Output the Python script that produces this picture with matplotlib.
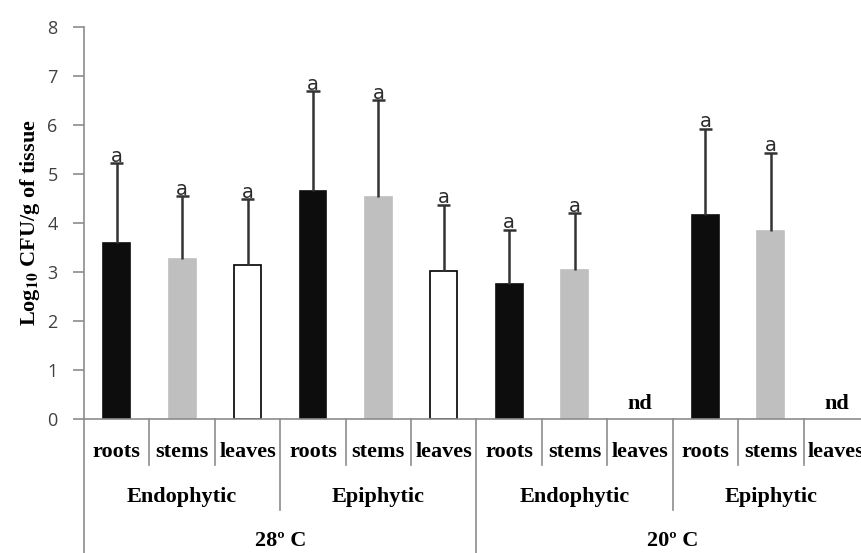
import numpy as np
import matplotlib
matplotlib.use('Agg')
import matplotlib.pyplot as plt
import matplotlib.transforms as mtransforms

# Data (log10 CFU/g of tissue)
tissues = ['roots', 'stems', 'leaves'] * 4
habitats = ['Endophytic', 'Epiphytic', 'Endophytic', 'Epiphytic']
temperatures = ['28º C', '20º C']
means = [3.59, 3.26, 3.14, 4.65, 4.53, 3.02, 2.75, 3.04, np.nan, 4.16, 3.84, np.nan]
err_top = [5.22, 4.55, 4.49, 6.69, 6.51, 4.37, 3.86, 4.20, np.nan, 5.92, 5.43, np.nan]
letters = ['a', 'a', 'a', 'a', 'a', 'a', 'a', 'a', 'nd', 'a', 'a', 'nd']

colors = {'roots': '#0d0d0d', 'stems': '#bfbfbf', 'leaves': 'white'}
axis_grey = '#8c8c8c'

means = np.array(means)
err_top = np.array(err_top)
x = np.arange(len(tissues))

fig = plt.figure(figsize=(8.62, 5.53), dpi=100)
ax = fig.add_axes([84 / 862, 134 / 553, 785 / 862, 392 / 553])

ok = ~np.isnan(means)
for i in x[ok]:
    t = tissues[i]
    ax.bar(i, means[i], width=0.41, color=colors[t],
           edgecolor='black' if t == 'leaves' else colors[t], linewidth=1.2, zorder=2)

# upper-only error bars with a cap at the top
ax.vlines(x[ok], means[ok], err_top[ok], color='#333333', lw=1.8, zorder=3)
ax.hlines(err_top[ok], x[ok] - 0.1, x[ok] + 0.1, color='#333333', lw=1.8, zorder=3)

for i in x:
    if letters[i] == 'nd':
        ax.text(i, 0.3, 'nd', ha='center', va='center', fontsize=16,
                family='Liberation Serif', weight='bold')
    else:
        ax.text(i, err_top[i] + 0.03, letters[i], ha='center', va='baseline',
                fontsize=14, color='#2b2b2b', family='DejaVu Sans')

ax.set_xlim(-0.5, 11.5)
ax.set_ylim(0, 8)
ax.set_yticks(range(0, 9))
ax.set_xticks([])
ax.tick_params(axis='y', length=8, width=1.2, color=axis_grey, labelsize=13,
               labelcolor='#404040', pad=11)
for lab in ax.get_yticklabels():
    lab.set_family('Open Sans')
for s in ['top', 'right']:
    ax.spines[s].set_visible(False)
for s in ['left', 'bottom']:
    ax.spines[s].set_color(axis_grey)
    ax.spines[s].set_linewidth(1.2)

ax.set_ylabel('Log$_{\\mathbf{10}}$ CFU/g of tissue', fontsize=16, family='Liberation Serif',
              weight='bold', labelpad=4)
ax.yaxis.label.set_math_fontfamily('stix')

# hierarchical category axis
tr = mtransforms.blended_transform_factory(ax.transData, ax.transAxes)
lab_font = dict(family='Liberation Serif', weight='bold', fontsize=16, ha='center', va='center')
for i, t in enumerate(tissues):
    ax.text(i, -0.084, t, transform=tr, **lab_font)
for g, h in enumerate(habitats):
    ax.text(3 * g + 1, -0.199, h, transform=tr, **lab_font)
for k, t in enumerate(temperatures):
    ax.text(6 * k + 2.5, -0.312, t, transform=tr, **lab_font)

for b in np.arange(-0.5, 12, 1.0):
    if b % 6 == 5.5 or b == -0.5:
        y0 = -0.36
    elif b % 3 == 2.5:
        y0 = -0.232
    else:
        y0 = -0.117
    ax.plot([b, b], [0, y0], transform=tr, color=axis_grey, lw=1.2, clip_on=False)

fig.savefig('out.png', dpi=100)
